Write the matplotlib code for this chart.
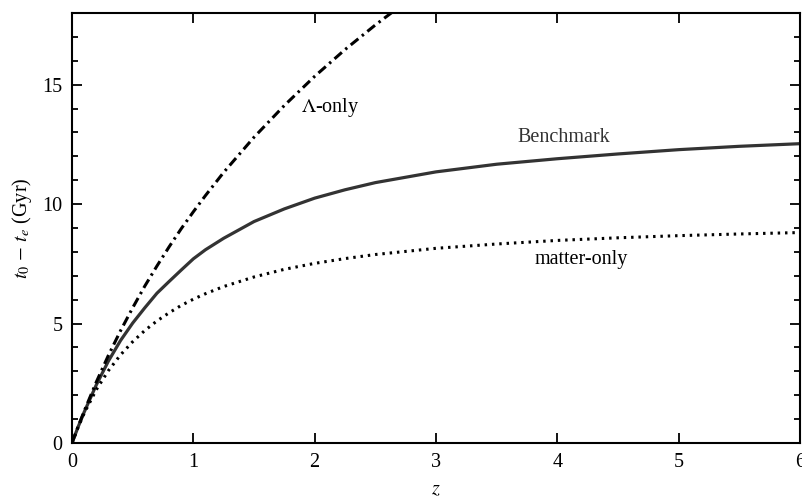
import numpy as np
import matplotlib
matplotlib.use('Agg')
import matplotlib.pyplot as plt
from matplotlib.ticker import MultipleLocator

plt.rcParams['font.family'] = ['Liberation Serif', 'DejaVu Serif']
plt.rcParams['mathtext.fontset'] = 'stix'

# 读图得到的回溯时间 (Gyr)
z = [0, 0.05, 0.1, 0.2, 0.3, 0.4, 0.5, 0.6, 0.7, 0.8, 0.9, 1.0, 1.1, 1.25, 1.5, 1.75,
     2.0, 2.25, 2.5, 3.0, 3.5, 4.0, 4.5, 5.0, 5.5, 6.0]
benchmark = [0, 0.67, 1.29, 2.43, 3.43, 4.29, 5.02, 5.66, 6.27, 6.76, 7.24, 7.71, 8.09,
             8.57, 9.27, 9.8, 10.25, 10.6, 10.9, 11.35, 11.67, 11.9, 12.1, 12.28,
             12.42, 12.53]
matter_only = [0, 0.66, 1.24, 2.23, 3.03, 3.69, 4.24, 4.71, 5.11, 5.45, 5.76, 6.02, 6.25,
               6.55, 6.95, 7.27, 7.52, 7.72, 7.89, 8.15, 8.33, 8.48, 8.59, 8.68,
               8.75, 8.81]
z_lam = [0, 0.05, 0.1, 0.2, 0.3, 0.4, 0.5, 0.6, 0.7, 0.8, 0.9, 1.0, 1.1, 1.25, 1.5,
         1.75, 2.0, 2.25, 2.5, 2.75]
lambda_only = [0, 0.68, 1.33, 2.55, 3.67, 4.70, 5.66, 6.57, 7.41, 8.21, 8.97, 9.68,
               10.36, 11.33, 12.80, 14.13, 15.35, 16.47, 17.50, 18.46]

xticks = [0, 1, 2, 3, 4, 5, 6]
yticks = [0, 5, 10, 15]

fig = plt.figure(figsize=(8.02, 5.01), dpi=100)
ax = fig.add_axes([0.0898, 0.1158, 0.9077, 0.8582])

ax.plot(z, benchmark, color='#333333', lw=2.3, solid_capstyle='butt')
ax.plot(z, matter_only, color='black', lw=2.2, linestyle=(0, (0.8, 1.6)))
ax.plot(z_lam, lambda_only, color='black', lw=2.2,
        linestyle=(0, (3.2, 1.5, 0.8, 1.5)))

ax.text(1.89, 14.06, r'$\Lambda$-only', fontsize=14.5, va='center', ha='left')
ax.text(3.67, 12.8, 'Benchmark', fontsize=14.5, va='center', ha='left', color='#333333')
ax.text(3.81, 7.7, 'matter-only', fontsize=14.5, va='center', ha='left')

ax.set_xlim(0, 6)
ax.set_ylim(0, 18)
ax.set_xticks(xticks)
ax.set_yticks(yticks)
ax.yaxis.set_minor_locator(MultipleLocator(1))
ax.tick_params(which='both', direction='in', top=True, right=True, width=1.3)
ax.tick_params(which='major', length=7, labelsize=14.5, pad=7)
ax.tick_params(which='minor', length=4.5)

for s in ax.spines.values():
    s.set_linewidth(1.5)

ax.set_xlabel(r'$z$', fontsize=14.5, labelpad=6)
ax.set_ylabel(r'$t_0\,-\,t_e$ (Gyr)', fontsize=14.5, labelpad=6)

plt.savefig('out.png', dpi=100)
